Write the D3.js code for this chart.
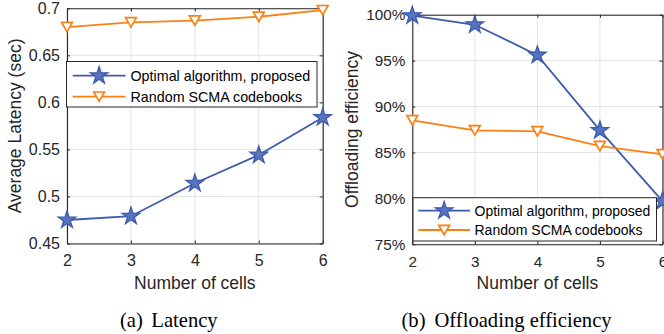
<!DOCTYPE html>
<html><head><meta charset="utf-8">
<script src="https://cdn.jsdelivr.net/npm/d3@7"></script>
<style>body{margin:0;background:#fff}svg{display:block}</style>
</head><body>
<svg id="c" width="664" height="334"></svg>
<script>
const cells = [2, 3, 4, 5, 6];
const latencyOptimal = [0.475, 0.479, 0.514, 0.544, 0.584];
const latencyRandom = [0.680, 0.685, 0.687, 0.691, 0.698];
const effOptimal = [99.9, 98.9, 95.6, 87.4, 79.7];
const effRandom = [88.5, 87.4, 87.3, 85.7, 84.8];
const latencyTicks = [0.45, 0.5, 0.55, 0.6, 0.65, 0.7];
const effTicks = [75, 80, 85, 90, 95, 100];
const seriesNames = ["Optimal algorithm, proposed", "Random SCMA codebooks"];

const BLUE = "#3d5bab", ORANGE = "#fb8012", AX = "#262626", GRID = "#e3e3e3";
const svg = d3.select("#c");
const font = "Liberation Sans, Arial, sans-serif";

const starPath = d3.symbol(d3.symbolStar, 95)();
const triPath = "M-5.4,-4.7L5.4,-4.7L0,4.7Z";

function drawMarker(g, type, x, y) {
  if (type === "star") {
    g.append("path").attr("d", starPath).attr("transform", `translate(${x},${y})`)
      .attr("fill", "#5874c0").attr("stroke", BLUE).attr("stroke-width", 1.3).attr("stroke-linejoin", "miter");
  } else {
    g.append("path").attr("d", triPath).attr("transform", `translate(${x},${y})`)
      .attr("fill", "#fff").attr("stroke", ORANGE).attr("stroke-width", 1.7);
  }
}

function panel(opt) {
  const x = d3.scaleLinear().domain([2, 6]).range([opt.x0, opt.x1]);
  const y = d3.scaleLinear().domain(opt.ydom).range([opt.y1, opt.y0]);
  const g = svg.append("g");
  // grid
  g.selectAll(null).data(cells).enter().append("line")
    .attr("x1", d => x(d)).attr("x2", d => x(d)).attr("y1", opt.y0).attr("y2", opt.y1)
    .attr("stroke", GRID).attr("stroke-width", 1);
  g.selectAll(null).data(opt.yticks).enter().append("line")
    .attr("y1", d => y(d)).attr("y2", d => y(d)).attr("x1", opt.x0).attr("x2", opt.x1)
    .attr("stroke", GRID).attr("stroke-width", 1);
  // axes
  const xa = d3.axisBottom(x).tickValues(cells).tickFormat(d3.format("d")).tickSizeInner(-3).tickSizeOuter(0).tickPadding(11.5);
  const ya = d3.axisLeft(y).tickValues(opt.yticks).tickFormat(opt.yfmt).tickSizeInner(-3).tickSizeOuter(0).tickPadding(7);
  const gx = g.append("g").attr("transform", `translate(0,${opt.y1})`).call(xa);
  const gy = g.append("g").attr("transform", `translate(${opt.x0},0)`).call(ya);
  const gxt = g.append("g").attr("transform", `translate(0,${opt.y0})`).call(d3.axisTop(x).tickValues(cells).tickFormat("").tickSizeInner(-3).tickSizeOuter(0));
  const gyr = g.append("g").attr("transform", `translate(${opt.x1},0)`).call(d3.axisRight(y).tickValues(opt.yticks).tickFormat("").tickSizeInner(-3).tickSizeOuter(0));
  [gx, gy, gxt, gyr].forEach(a => {
    a.select(".domain").attr("stroke", AX).attr("stroke-width", 1.1);
    a.selectAll(".tick line").attr("stroke", AX);
    a.selectAll("text").attr("fill", AX).attr("font-family", font).attr("font-size", opt.tickFs);
  });
  // lines
  const data = [opt.s1, opt.s2];
  const colors = [BLUE, ORANGE];
  const types = ["star", "tri"];
  data.forEach((s, i) => {
    const line = d3.line().x((d, j) => x(cells[j])).y(d => y(d));
    g.append("path").attr("d", line(s)).attr("fill", "none").attr("stroke", colors[i]).attr("stroke-width", 1.8);
    s.forEach((v, j) => drawMarker(g, types[i], x(cells[j]), y(v)));
  });
  // axis labels
  g.append("text").attr("x", (opt.x0 + opt.x1) / 2).attr("y", 288.5)
    .attr("text-anchor", "middle").attr("font-family", font).attr("font-size", 17.5).attr("fill", AX).text("Number of cells");
  g.append("text").attr("transform", `translate(${opt.ylabX},${(opt.y0 + opt.y1) / 2}) rotate(-90)`)
    .attr("text-anchor", "middle").attr("font-family", font).attr("font-size", 17.5).attr("fill", AX).text(opt.ylabel);
  // legend
  const L = opt.legend;
  const lg = g.append("g");
  lg.append("rect").attr("x", L.x).attr("y", L.y).attr("width", L.w).attr("height", L.h)
    .attr("fill", "#fff").attr("stroke", AX).attr("stroke-width", 1);
  seriesNames.forEach((name, i) => {
    const ry = L.rows[i];
    lg.append("line").attr("x1", L.l0).attr("x2", L.l1).attr("y1", ry).attr("y2", ry)
      .attr("stroke", colors[i]).attr("stroke-width", 1.8);
    drawMarker(lg, types[i], (L.l0 + L.l1) / 2, ry);
    lg.append("text").attr("x", L.tx).attr("y", ry + L.fs * 0.36).attr("font-family", font)
      .attr("font-size", L.fs).attr("fill", "#000").text(name);
  });
  // caption
  const cap = g.append("text").attr("x", opt.capX).attr("y", 327.3).attr("font-family", "Liberation Serif, Times New Roman, serif")
    .attr("font-size", 20.6).attr("fill", "#000");
  cap.append("tspan").text(opt.cap[0]);
  cap.append("tspan").attr("x", opt.capX2).text(opt.cap[1]);
}

panel({
  x0: 67, x1: 322.7, y0: 8.3, y1: 243.5, ydom: [0.45, 0.7], yticks: latencyTicks,
  yfmt: d => d3.format("")(+d.toFixed(2)), tickFs: 16,
  s1: latencyOptimal, s2: latencyRandom,
  ylabel: "Average Latency (sec)", ylabX: 21,
  legend: {x: 66.5, y: 61.5, w: 250.5, h: 45.5, rows: [75.7, 96.7], l0: 72.7, l1: 125.5, tx: 130.5, fs: 14.3},
  cap: ["(a)", "Latency"], capX: 120, capX2: 151.3
});
panel({
  x0: 412.3, x1: 662.5, y0: 14.7, y1: 244.3, ydom: [75, 100], yticks: effTicks,
  yfmt: d => d + "%", tickFs: 15.3,
  s1: effOptimal, s2: effRandom,
  ylabel: "Offloading efficiency", ylabX: 358,
  legend: {x: 413, y: 197.7, w: 243.5, h: 43.3, rows: [210.7, 230], l0: 418.3, l1: 470, tx: 474.5, fs: 14},
  cap: ["(b)", "Offloading efficiency"], capX: 401.5, capX2: 434.5
});
</script>
</body></html>
